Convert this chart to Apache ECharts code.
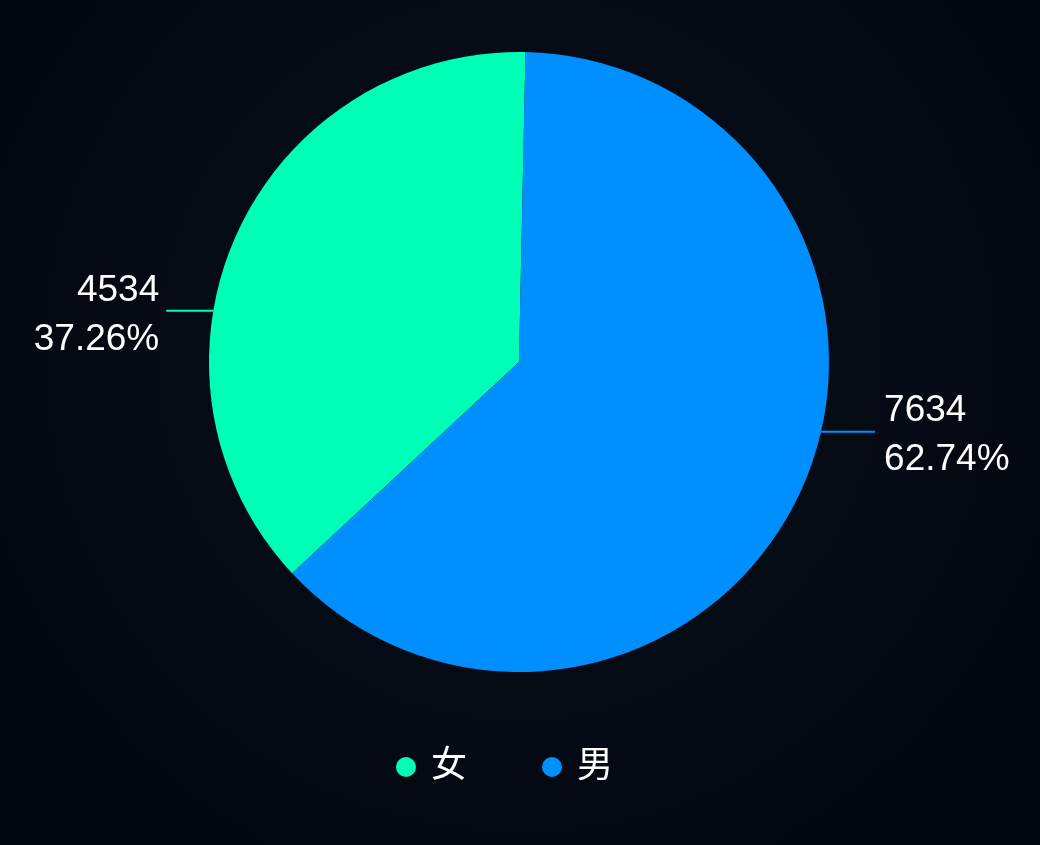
<!DOCTYPE html>
<html>
<head>
<meta charset="utf-8">
<style>
html,body{margin:0;padding:0;background:#02060f;}
#chart{width:1040px;height:845px;}
</style>
<script src="https://cdn.jsdelivr.net/npm/echarts@6/dist/echarts.min.js"></script>
</head>
<body>
<div id="chart"></div>
<script>
// ---- data ----
const categories = ['女', '男'];
const values = [4534, 7634];
const colors = ['#00ffb6', '#008fff'];

// ---- layout/style constants ----
const CENTER = [519, 362];
const RADIUS = 310;
const LABEL_ANCHOR_ANGLES = [170.5, 347]; // degrees, where label lines leave the rim
const LINE_LENS = [47, 54];
const TEXT_GAPS = [7, 9];
const LABEL_DY = 4;

const chart = echarts.init(document.getElementById('chart'));
const font = "'Helvetica Neue', Helvetica, 'Liberation Sans', 'Noto Sans CJK SC', sans-serif";

chart.setOption({
  backgroundColor: {
    type: 'radial', x: 0.5, y: 0.42, r: 0.75,
    colorStops: [
      { offset: 0, color: '#09111b' },
      { offset: 1, color: '#02060f' }
    ]
  },
  animation: false,
  legend: {
    data: categories,
    icon: 'circle',
    itemWidth: 40,
    itemHeight: 20,
    itemGap: 75,
    left: 391,
    top: 744,
    textStyle: { color: '#ffffff', fontSize: 36, fontFamily: font }
  },
  series: [{
    type: 'pie',
    center: CENTER,
    radius: RADIUS,
    startAngle: 88.8,
    clockwise: false,
    data: categories.map((c, i) => ({ name: c, value: values[i], itemStyle: { color: colors[i] } })),
    label: {
      show: true,
      formatter: '{c}\n{d}%',
      color: '#ffffff',
      fontSize: 37,
      lineHeight: 49,
      fontFamily: font
    },
    labelLine: { show: true, length: 0, length2: 50, lineStyle: { width: 2 } },
    labelLayout: function (params) {
      const i = params.dataIndex;
      const a = LABEL_ANCHOR_ANGLES[i] * Math.PI / 180;
      const px = CENTER[0] + RADIUS * Math.cos(a);
      const py = CENTER[1] - RADIUS * Math.sin(a);
      const left = Math.cos(a) < 0;
      const ex = left ? px - LINE_LENS[i] : px + LINE_LENS[i];
      return {
        x: left ? ex - TEXT_GAPS[i] : ex + TEXT_GAPS[i],
        y: py + LABEL_DY,
        align: left ? 'right' : 'left',
        verticalAlign: 'middle',
        labelLinePoints: [[px, py], [px, py], [ex, py]]
      };
    }
  }]
});
</script>
</body>
</html>
